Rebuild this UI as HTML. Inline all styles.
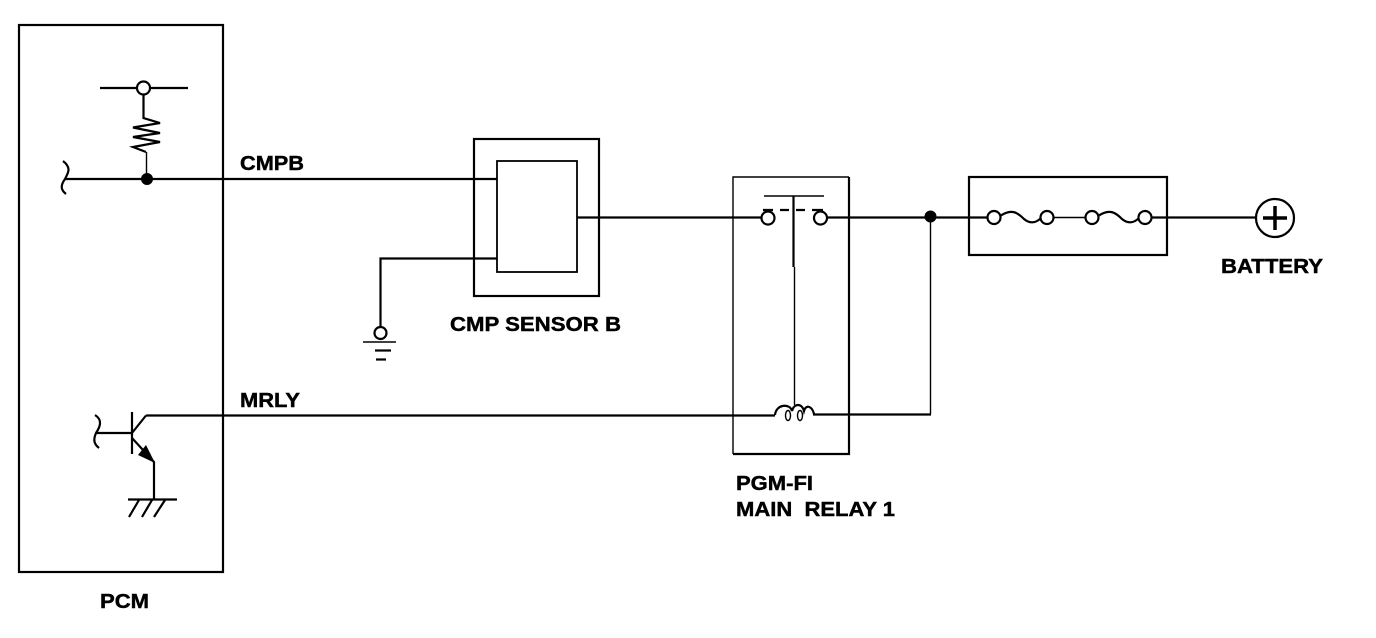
<!DOCTYPE html>
<html>
<head>
<meta charset="utf-8">
<style>
html,body{margin:0;padding:0;background:#fff;width:1376px;height:638px;overflow:hidden}
svg{display:block}
text{font-family:"Liberation Sans",sans-serif;font-weight:bold;font-size:20.5px;fill:#000;stroke:#000;stroke-width:.45px;white-space:pre}
.l{fill:none;stroke:#000;stroke-width:2.2}
.m{fill:none;stroke:#000;stroke-width:1.8}
.t{fill:none;stroke:#000;stroke-width:1.4}
.c{fill:#fff;stroke:#000;stroke-width:2.2}
</style>
</head>
<body>
<svg width="1376" height="638" viewBox="0 0 1376 638" xmlns="http://www.w3.org/2000/svg">
<rect width="1376" height="638" fill="#fff"/>

<!-- wires -->
<path class="l" d="M65 179H497"/>
<path class="l" d="M380.500 327V258.500H497"/>
<path class="l" d="M577 217.500H762"/>
<path class="l" d="M826 217.500H988"/>
<path class="l" d="M1151 217.500H1256"/>
<path class="t" d="M1053 217.500H1086"/>
<path class="l" d="M146 415.500H775"/>
<path class="l" d="M813 414.500H931"/>
<path class="t" d="M930.500 217V414"/>
<circle cx="930.500" cy="216.500" r="6" fill="#000"/>

<!-- boxes -->
<rect class="l" x="19" y="25" width="204" height="547"/>
<rect class="l" x="474" y="139" width="125" height="157"/>
<rect class="m" x="497" y="161" width="80" height="111"/>
<path class="t" d="M849 177H733V454"/>
<path class="l" d="M849 177V454H733"/>
<rect class="l" x="969" y="177" width="198" height="78"/>

<!-- pull-up -->
<path class="l" d="M100 88H188"/>
<circle class="c" cx="143.500" cy="88" r="6.500"/>
<path class="l" d="M143.500 95V118L160 123L133 127.500L160 133L133 137L160 142L133 147L146 152"/>
<path class="t" d="M146.500 152V179"/>
<circle cx="147" cy="179" r="6" fill="#000"/>
<path class="l" d="M63 161C72 168 68 173 65 179C60 186 61 190 66 194"/>

<!-- transistor -->
<path class="l" d="M95 415C103 420 100 427 96 433C93 440 94 444 99 448"/>
<path class="l" d="M96 433H132"/>
<path class="l" d="M132 412V454"/>
<path class="l" d="M132 433L146 415.500"/>
<path class="l" d="M132 438L154 462V500"/>
<path d="M155 463L138 455L146 445Z" fill="#000"/>
<path class="l" d="M128 499.500H177"/>
<path class="l" d="M139 500L129 517M152 500L142 517M165 500L154 517"/>

<!-- sensor ground -->
<circle class="c" cx="380.500" cy="333" r="6"/>
<path class="t" d="M363 342H396"/>
<path class="l" d="M375 350.500H391"/>
<path class="l" d="M376 359.500H386"/>

<!-- relay contacts -->
<circle class="c" cx="768" cy="218" r="6.500"/>
<circle class="c" cx="820.500" cy="218" r="6.500"/>
<path class="t" d="M764 196H824"/>
<path class="l" d="M793.500 196V267"/>
<path class="t" d="M794.500 267V405"/>
<path class="l" d="M763 210H773M780 210H789M796 210H805M812 210H823"/>

<!-- coil -->
<path class="l" d="M775 415C776 404 790 403 792 411C794 403 802 403 804 411C806 404 812 406 814 414"/>
<ellipse class="t" cx="788" cy="415.500" rx="2.500" ry="5"/>
<ellipse class="t" cx="800" cy="415.500" rx="2.500" ry="5"/>

<!-- fuses -->
<circle class="c" cx="994" cy="217.500" r="6.500"/>
<circle class="c" cx="1047" cy="217.500" r="6.500"/>
<circle class="c" cx="1092" cy="217.500" r="6.500"/>
<circle class="c" cx="1145" cy="217.500" r="6.500"/>
<path class="l" d="M1000 216C1012 208 1018 213 1024 219C1030 224 1036 223 1041 218"/>
<path class="l" d="M1098 216C1110 208 1116 213 1122 219C1128 224 1134 223 1139 218"/>

<!-- battery -->
<circle class="c" cx="1275" cy="218" r="19"/>
<path d="M1263 218H1287M1275 206V230" fill="none" stroke="#000" stroke-width="3.500"/>

<!-- labels -->
<text x="240" y="170" textLength="64" lengthAdjust="spacingAndGlyphs">CMPB</text>
<text x="240" y="407" textLength="60" lengthAdjust="spacingAndGlyphs">MRLY</text>
<text x="450" y="331" textLength="171" lengthAdjust="spacingAndGlyphs">CMP SENSOR B</text>
<text x="736" y="490" textLength="77" lengthAdjust="spacingAndGlyphs">PGM-FI</text>
<text x="736" y="516" textLength="159" lengthAdjust="spacingAndGlyphs">MAIN  RELAY 1</text>
<text x="1221" y="273" textLength="102" lengthAdjust="spacingAndGlyphs">BATTERY</text>
<text x="100" y="608" textLength="49" lengthAdjust="spacingAndGlyphs">PCM</text>
</svg>
</body>
</html>
